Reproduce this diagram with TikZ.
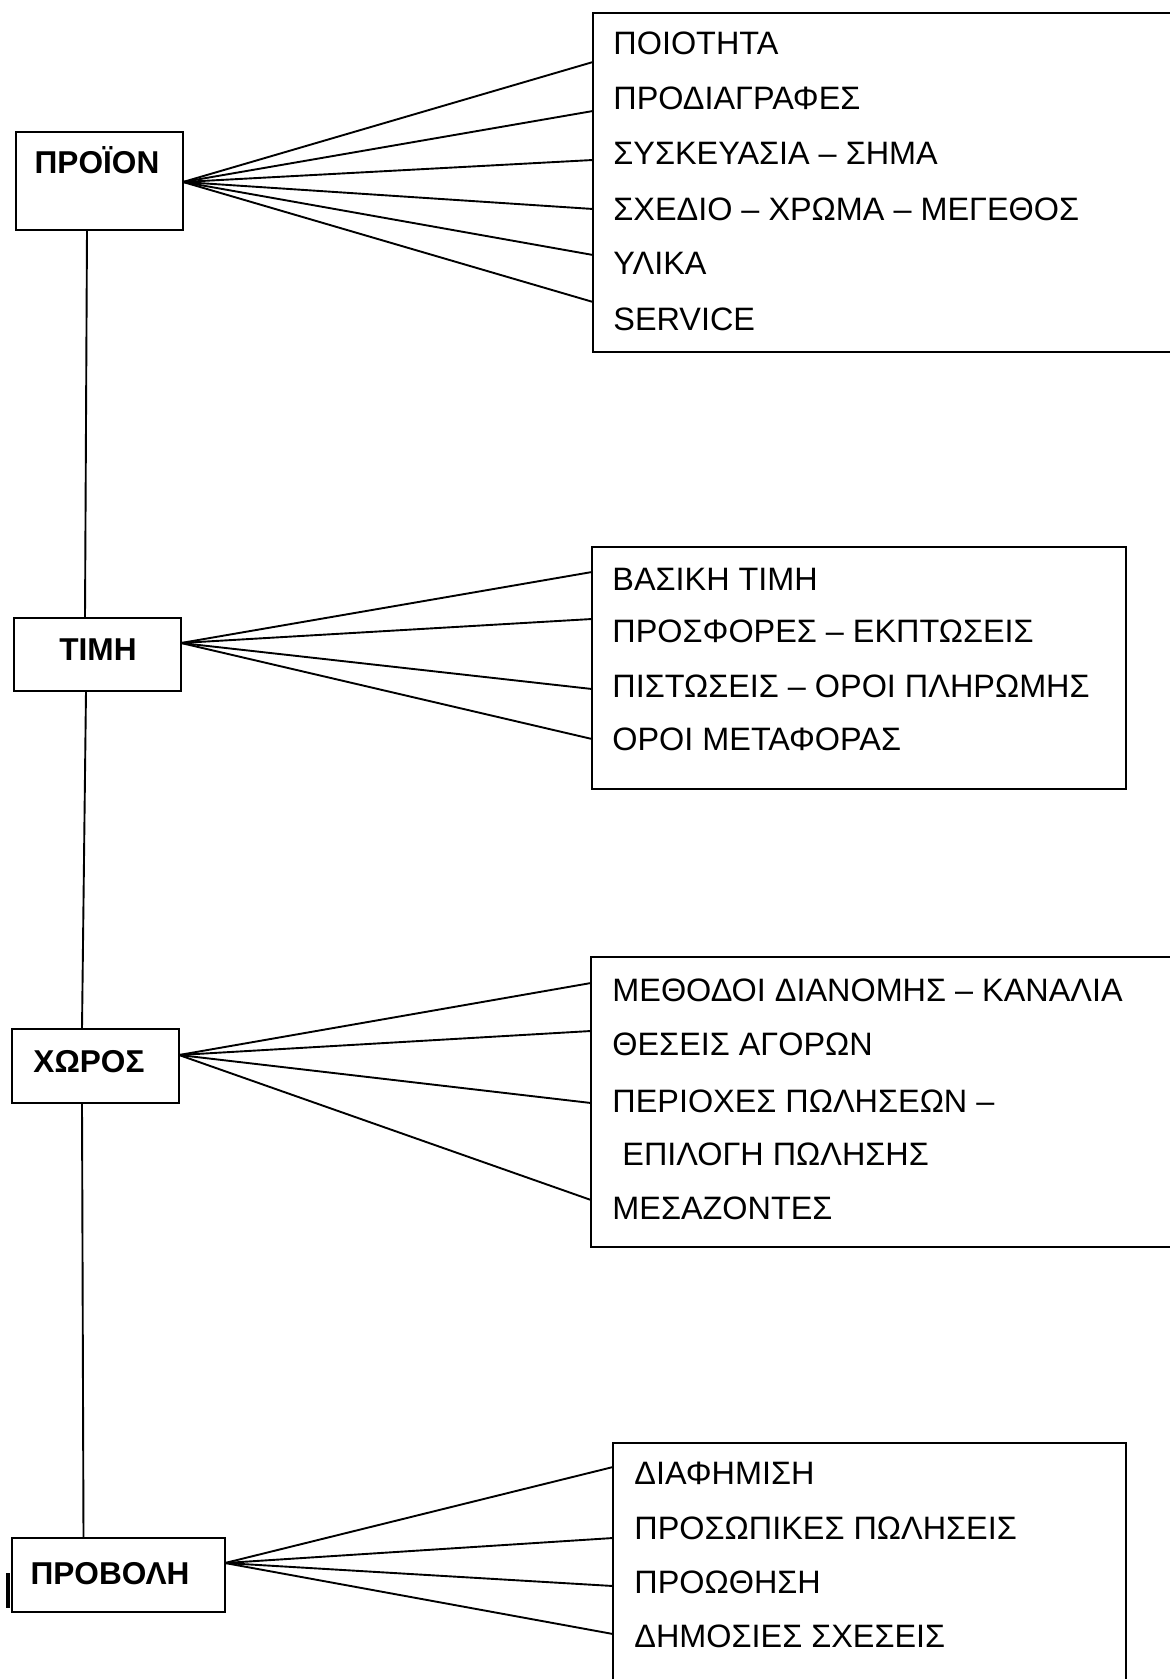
\documentclass[tikz,border=0pt]{standalone}
\usepackage{fontspec}
\setmainfont{Liberation Sans}
\begin{document}
\begin{tikzpicture}[x=0.5pt,y=-0.5pt,
  boxline/.style={line width=1.1pt},
  fanline/.style={line width=0.95pt},
  item/.style={anchor=base west, inner sep=0pt, font=\fontsize{16.2}{19}\selectfont},
  head/.style={anchor=base, inner sep=0pt, font=\fontsize{15.8}{18}\selectfont\bfseries}]
\useasboundingbox (0,0) rectangle (1169,1679);

% ---------- left boxes ----------
\draw[boxline] (16,132) rectangle (183,230);
\draw[boxline] (14,618) rectangle (181,691);
\draw[boxline] (12,1029) rectangle (179,1103);
\draw[boxline] (12,1538) rectangle (225,1612);
\draw[line width=2pt] (8,1573) -- (8,1608);

\node[head] (proion) at (97,174) {ΠΡΟΪΟΝ};
\node[head] (timi) at (98,660) {ΤΙΜΗ};
\node[head] (xoros) at (89,1072) {ΧΩΡΟΣ};
\node[head] (provoli) at (110,1584) {ΠΡΟΒΟΛΗ};

% ---------- vertical spine ----------
\coordinate (s1) at (87,230);  \coordinate (s2) at (85,618);
\coordinate (s3) at (86,691);  \coordinate (s4) at (82,1029);
\coordinate (s5) at (82,1103); \coordinate (s6) at (83.5,1538);
\draw[fanline] (s1) -- (s2);
\draw[fanline] (s3) -- (s4);
\draw[fanline] (s5) -- (s6);

% ---------- right boxes ----------
\draw[boxline] (1180,13) -- (593,13) -- (593,352) -- (1180,352);
\draw[boxline] (592,547) rectangle (1126,789);
\draw[boxline] (1180,957) -- (591,957) -- (591,1247) -- (1180,1247);
\draw[boxline] (613,1690) -- (613,1443) -- (1126,1443) -- (1126,1690);

% ---------- texts ----------
\node[item] (a1) at (613,55)  {ΠΟΙΟΤΗΤΑ};
\node[item] (a2) at (613,110) {ΠΡΟΔΙΑΓΡΑΦΕΣ};
\node[item] (a3) at (613,165) {ΣΥΣΚΕΥΑΣΙΑ – ΣΗΜΑ};
\node[item] (a4) at (613,221) {ΣΧΕΔΙΟ – ΧΡΩΜΑ – ΜΕΓΕΘΟΣ};
\node[item] (a5) at (613,275) {ΥΛΙΚΑ};
\node[item] (a6) at (613,331) {SERVICE};

\node[item] (b1) at (612,590) {ΒΑΣΙΚΗ ΤΙΜΗ};
\node[item] (b2) at (612,642) {ΠΡΟΣΦΟΡΕΣ – ΕΚΠΤΩΣΕΙΣ};
\node[item] (b3) at (612,697) {ΠΙΣΤΩΣΕΙΣ – ΟΡΟΙ ΠΛΗΡΩΜΗΣ};
\node[item] (b4) at (612,750) {ΟΡΟΙ ΜΕΤΑΦΟΡΑΣ};

\node[item] (c1) at (612,1001) {ΜΕΘΟΔΟΙ ΔΙΑΝΟΜΗΣ – ΚΑΝΑΛΙΑ};
\node[item] (c2) at (612,1055) {ΘΕΣΕΙΣ ΑΓΟΡΩΝ};
\node[item] (c3) at (612,1112) {ΠΕΡΙΟΧΕΣ ΠΩΛΗΣΕΩΝ –};
\node[item] (c4) at (622,1165) {ΕΠΙΛΟΓΗ ΠΩΛΗΣΗΣ};
\node[item] (c5) at (612,1219) {ΜΕΣΑΖΟΝΤΕΣ};

\node[item] (d1) at (634,1484) {ΔΙΑΦΗΜΙΣΗ};
\node[item] (d2) at (634,1539) {ΠΡΟΣΩΠΙΚΕΣ ΠΩΛΗΣΕΙΣ};
\node[item] (d3) at (634,1593) {ΠΡΟΩΘΗΣΗ};
\node[item] (d4) at (634,1647) {ΔΗΜΟΣΙΕΣ ΣΧΕΣΕΙΣ};

% ---------- fans ----------
\coordinate (fa) at (183,182);
\foreach \y in {62,111,160,209,255,302} \draw[fanline] (fa) -- (593,\y);
\coordinate (fb) at (181,643);
\foreach \y in {572,619,689,739} \draw[fanline] (fb) -- (592,\y);
\coordinate (fc) at (179,1055);
\foreach \y in {983,1031,1103,1200} \draw[fanline] (fc) -- (591,\y);
\coordinate (fd) at (225,1563);
\foreach \y in {1467,1538,1586,1634} \draw[fanline] (fd) -- (613,\y);
\end{tikzpicture}
\end{document}
